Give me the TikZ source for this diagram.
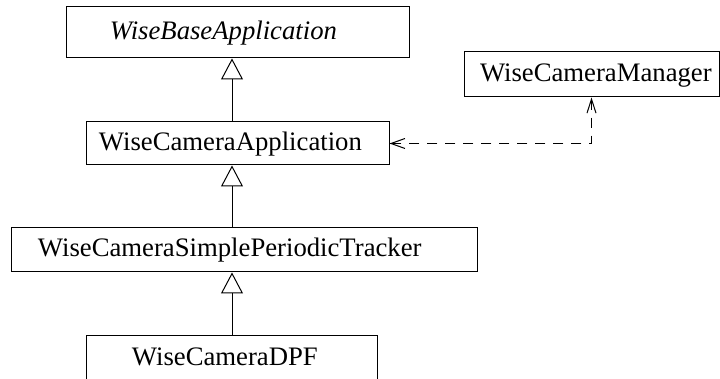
\documentclass[tikz,border=0pt]{standalone}
\usepackage{fontspec}
\setmainfont{Liberation Serif}
\usetikzlibrary{arrows.meta,
                positioning}

\tikzset{
    cls/.style={draw, line width=0.5bp, inner ysep=0pt, align=left,
                text height=0.67em, text depth=0pt},
    inherit/.style={line width=0.5bp, -{Triangle[open, length=10.5bp, width=11bp]}},
    uses/.style={line width=0.5bp, dash pattern=on 5bp off 4bp,
                 {Straight Barb[length=7bp, width=4.5bp]}-{Straight Barb[length=7bp, width=5bp]}}
}

\begin{document}
\begin{tikzpicture}[x=0.5bp, y=-0.5bp, font=\fontsize{13.35bp}{16bp}\selectfont]
    \useasboundingbox (0,0) rectangle (720,379);

    % class boxes
    \node[cls, minimum height=25.5bp, inner xsep=21.5bp, text width=128bp] (base) at (238,32.5) {\textit{WiseBaseApplication}};
    \node[cls, minimum height=21.5bp, inner xsep=6bp, text width=139bp] (app) at (238,143.5) {WiseCameraApplication};
    \node[cls, minimum height=22.5bp, inner xsep=8bp, text width=111.5bp] (mgr) at (591.5,74.5) {WiseCameraManager};
    \node[cls, minimum height=22bp, inner xsep=13bp, text width=206.5bp] (trk) at (244.5,250) {WiseCameraSimplePeriodicTracker};
    \node[cls, minimum height=22.5bp, inner xsep=22.5bp, text width=100bp] (dpf) at (232,358.5) {WiseCameraDPF};

    \coordinate (spine) at (232,0);

    % generalisation
    \draw[inherit] (app.north -| spine) -- (base.south -| spine);
    \draw[inherit] (trk.north -| spine) -- (app.south -| spine);
    \draw[inherit] (dpf.north -| spine) -- (trk.south -| spine);

    % dependency
    \draw[uses] (mgr.south) |- (app.east);
\end{tikzpicture}
\end{document}
